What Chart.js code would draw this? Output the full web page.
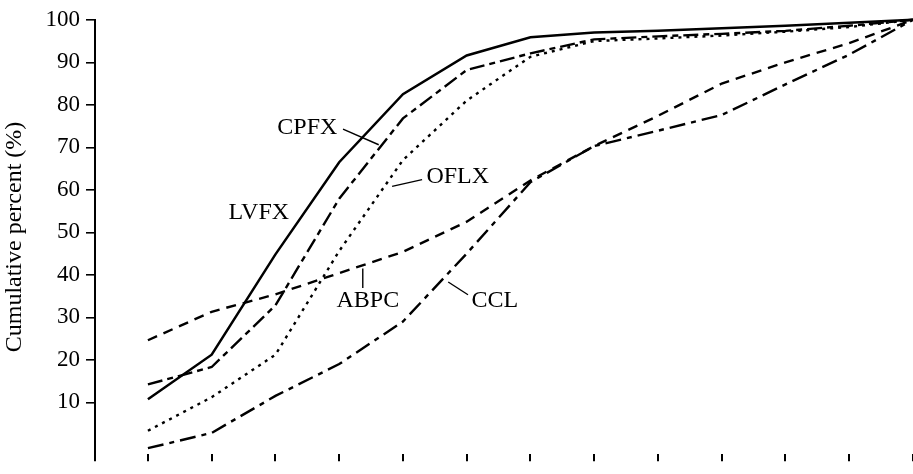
<!DOCTYPE html>
<html>
<head>
<meta charset="utf-8">
<script src="https://cdn.jsdelivr.net/npm/chart.js@4/dist/chart.umd.min.js"></script>
<style>
    html, body { margin: 0; padding: 0; background: #fff; }
    #wrap { width: 913px; height: 474px; position: relative; }
</style>
</head>
<body>
<div id="wrap"><canvas id="cumulChart"></canvas></div>
<script>
// Pas de concentration (les libellés de l'axe X sont hors cadre)
const steps = [0, 1, 2, 3, 4, 5, 6, 7, 8, 9, 10, 11, 12];

// Pourcentages cumulés
const lvfx = [10.7, 21.2, 44.8, 66.5, 82.5, 91.6, 95.9, 97.0, 97.4, 98.0, 98.6, 99.3, 100];
const cpfx = [14.2, 18.3, 32.8, 57.9, 76.8, 88.2, 92.1, 95.4, 96.1, 96.7, 97.4, 98.6, 100];
const oflx = [3.3, 11.2, 21.2, 45.6, 67.0, 81.0, 91.3, 95.0, 95.6, 96.3, 97.2, 98.3, 100];
const abpc = [24.6, 31.3, 35.4, 40.4, 45.4, 52.5, 62.2, 70.3, 77.4, 85.0, 90.0, 94.5, 100];
const ccl = [-0.8, 2.8, 11.5, 19.0, 29.0, 45.0, 61.8, 70.3, 73.9, 77.6, 84.8, 91.8, 100];

const yTicks = [10, 20, 30, 40, 50, 60, 70, 80, 90, 100];

// Étiquettes des courbes : position du texte + trait de rappel (coordonnées de données)
const curveLabels = [
    { text: 'CPFX', x: 2.50, y: 74.7, lead: [3.06, 74.3, 3.62, 70.6] },
    { text: 'LVFX', x: 1.74, y: 54.6, lead: null },
    { text: 'OFLX', x: 4.86, y: 63.1, lead: [4.30, 62.4, 3.83, 60.8] },
    { text: 'ABPC', x: 3.45, y: 33.9, lead: [3.37, 41.5, 3.37, 36.9] },
    { text: 'CCL', x: 5.44, y: 33.9, lead: [4.71, 38.3, 5.02, 35.3] }
];

const X_MIN = -0.83;
const SERIF = '"Liberation Serif", "DejaVu Serif", serif';

/**
 * Dessine les étiquettes et leurs traits de rappel
 */
const curveLabelPlugin = {
    id: 'curveLabels',
    afterDatasetsDraw(chart) {
        const { ctx, scales: { x, y } } = chart;
        ctx.save();
        ctx.fillStyle = '#000';
        ctx.strokeStyle = '#000';
        ctx.lineWidth = 1.4;
        ctx.font = '24px ' + SERIF;
        ctx.textAlign = 'center';
        ctx.textBaseline = 'middle';
        curveLabels.forEach(lbl => {
            ctx.fillText(lbl.text, x.getPixelForValue(lbl.x), y.getPixelForValue(lbl.y));
            if (lbl.lead) {
                ctx.beginPath();
                ctx.moveTo(x.getPixelForValue(lbl.lead[0]), y.getPixelForValue(lbl.lead[1]));
                ctx.lineTo(x.getPixelForValue(lbl.lead[2]), y.getPixelForValue(lbl.lead[3]));
                ctx.stroke();
            }
        });
        ctx.restore();
    }
};

function line(label, data, dash, width) {
    return {
        label: label,
        data: data,
        borderColor: '#000',
        borderWidth: width,
        borderDash: dash,
        pointRadius: 0,
        tension: 0,
        fill: false,
        clip: 4
    };
}

new Chart(document.getElementById('cumulChart'), {
    type: 'line',
    data: {
        labels: steps,
        datasets: [
            line('LVFX', lvfx, [], 2.5),
            line('CPFX', cpfx, [15, 5, 6, 5], 2.4),
            line('OFLX', oflx, [3, 5], 2.4),
            line('ABPC', abpc, [10, 7], 2.4),
            line('CCL', ccl, [16, 6, 5, 6], 2.4)
        ]
    },
    options: {
        responsive: true,
        maintainAspectRatio: false,
        animation: false,
        layout: { padding: { top: 18, right: 0, bottom: 0, left: 0 } },
        plugins: {
            legend: { display: false },
            tooltip: { enabled: false }
        },
        scales: {
            x: {
                type: 'linear',
                min: X_MIN,
                max: 12,
                border: { display: false },
                grid: {
                    drawOnChartArea: false,
                    drawTicks: true,
                    tickLength: 7,
                    color: '#000',
                    lineWidth: 2
                },
                ticks: { display: false },
                afterBuildTicks: scale => {
                    scale.ticks = [X_MIN, ...steps].map(v => ({ value: v }));
                }
            },
            y: {
                min: -2.21,
                max: 100,
                border: { display: true, color: '#000', width: 2 },
                grid: {
                    drawOnChartArea: false,
                    drawTicks: true,
                    tickLength: 9,
                    color: '#000',
                    lineWidth: 1.6
                },
                ticks: {
                    color: '#000',
                    padding: 6,
                    font: { family: SERIF, size: 23 }
                },
                title: {
                    display: true,
                    text: 'Cumulative percent (%)',
                    color: '#000',
                    padding: { top: 0, bottom: 0 },
                    font: { family: SERIF, size: 24 }
                },
                afterBuildTicks: scale => {
                    scale.ticks = yTicks.map(v => ({ value: v }));
                },
                afterFit: scale => {
                    scale.width = 95;
                }
            }
        }
    },
    plugins: [curveLabelPlugin]
});
</script>
</body>
</html>
